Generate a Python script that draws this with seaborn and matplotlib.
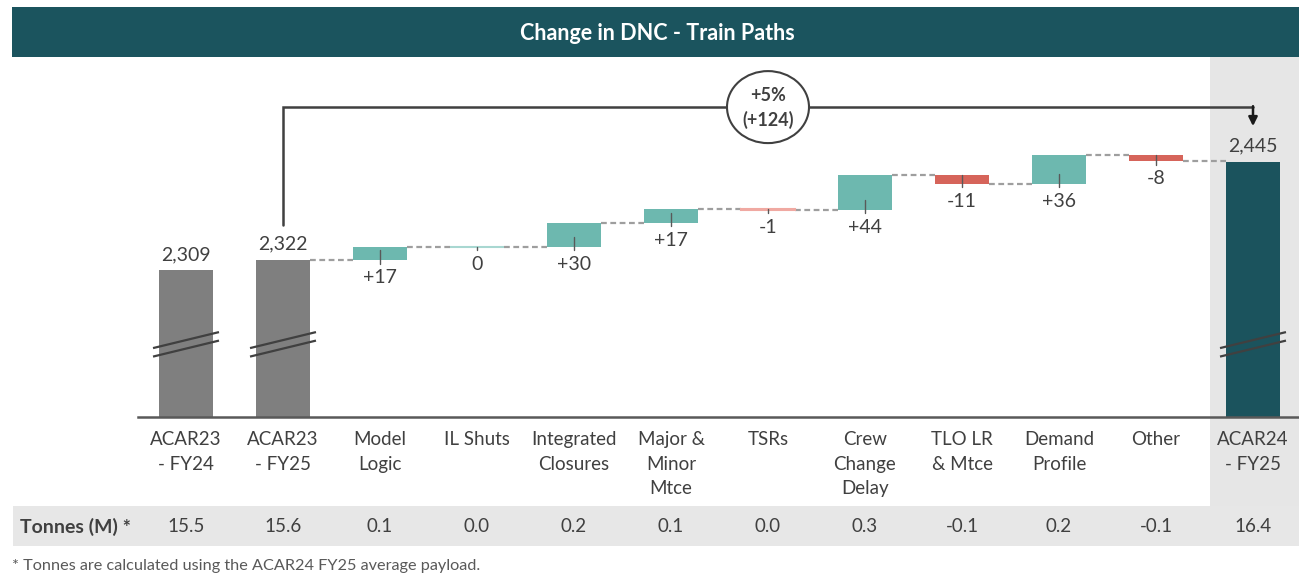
import matplotlib
matplotlib.use("Agg")
import matplotlib.pyplot as plt
from matplotlib.patches import Rectangle, Ellipse
from matplotlib.transforms import blended_transform_factory
import seaborn as sns
import numpy as np

# ---------------- data ----------------
categories = ["ACAR23\n- FY24", "ACAR23\n- FY25", "Model\nLogic", "IL Shuts",
              "Integrated\nClosures", "Major &\nMinor\nMtce", "TSRs",
              "Crew\nChange\nDelay", "TLO LR\n& Mtce", "Demand\nProfile",
              "Other", "ACAR24\n- FY25"]
start_totals = [2309, 2322]
deltas = [17, 0, 30, 17, -1, 44, -11, 36, -8]
end_total = 2445
tonnes = ["15.5", "15.6", "0.1", "0.0", "0.2", "0.1", "0.0", "0.3", "-0.1", "0.2", "-0.1", "16.4"]
change_pct = "+5%"
change_abs = "(+124)"
title = "Change in DNC - Train Paths"
row_label = "Tonnes (M) *"
footnote = "* Tonnes are calculated using the ACAR24 FY25 average payload."

# ---------------- colours ----------------
C_TOTAL = "#7F7F7F"
C_FINAL = "#1B535D"
C_POS = "#6DB8AF"
C_NEG = "#D6645A"
C_POS_LIGHT = "#A8D7D1"
C_NEG_LIGHT = "#F0A9A2"
C_TEXT = "#404040"
C_SHADE = "#E6E6E6"

sns.set_theme(style="white")
plt.rcParams["font.family"] = ["Lato", "DejaVu Sans"]

W, H = 1299, 575
fig = plt.figure(figsize=(W / 100, H / 100), dpi=100)

def fx(px):
    return px / W

def fy(py):
    return 1 - py / H

# layout (pixels)
ax_left, ax_right, ax_top, ax_bottom = 137.5, 1299, 57, 417
ax = fig.add_axes([fx(ax_left), fy(ax_bottom), fx(ax_right - ax_left), (ax_bottom - ax_top) / H])
ax.set_facecolor("none")

ymin, ymax = 2125, 2577
upp = (ymax - ymin) / (ax_bottom - ax_top)  # data units per pixel

# ---------------- waterfall geometry ----------------
running = [start_totals[-1]]
for d in deltas:
    running.append(running[-1] + d)

heights, bottoms, colors = [], [], []
for v in start_totals:
    heights.append(v); bottoms.append(0); colors.append(C_TOTAL)
for j, d in enumerate(deltas):
    lo = min(running[j], running[j + 1])
    heights.append(abs(d)); bottoms.append(lo)
    if abs(d) <= 1:
        colors.append(C_POS_LIGHT if d >= 0 else C_NEG_LIGHT)
    else:
        colors.append(C_POS if d > 0 else C_NEG)
heights.append(end_total); bottoms.append(0); colors.append(C_FINAL)

bw = 0.557
sns.barplot(x=categories, y=heights, order=categories, bottom=np.array(bottoms, dtype=float),
            width=bw, color=C_TOTAL, errorbar=None, ax=ax, zorder=3)
for p, c in zip(ax.patches, colors):
    p.set_facecolor(c)
    p.set_edgecolor(c)
    p.set_linewidth(1.5 if p.get_height() <= 1 else 0)

ax.set_xlim(-0.5, (ax_right - 186) / 97)
ax.set_ylim(ymin, ymax)
ax.set_xlabel("")
ax.set_ylabel("")
ax.set_yticks([])
sns.despine(ax=ax, left=True, top=True, right=True)
ax.spines["bottom"].set_color("#595959")
ax.spines["bottom"].set_linewidth(1.8)
ax.spines["bottom"].set_zorder(5)
ax.set_xticks(range(len(categories)))
ax.set_xticklabels(categories, fontsize=13.5, color=C_TEXT, linespacing=1.55)
ax.tick_params(axis="x", length=0, pad=10)

# connectors
for k in range(1, len(categories) - 1):
    lvl = running[k - 1]
    ax.plot([k + bw / 2, k + 1 - bw / 2], [lvl, lvl], color="#9E9E9E", lw=1.6,
            dashes=(2.6, 1.6), zorder=2)

# value labels
PT = 0.72  # points per pixel
totals_idx = [0, 1, len(categories) - 1]
for i, v in zip(totals_idx, start_totals + [end_total]):
    ax.annotate(f"{v:,}", xy=(i, v), xytext=(0, 16 * PT), textcoords="offset points",
                ha="center", va="center", fontsize=14, color=C_TEXT)
for j, d in enumerate(deltas):
    i = j + 2
    lo = min(running[j], running[j + 1])
    hi = max(running[j], running[j + 1])
    ax.plot([i, i], [min(hi, lo + 10 * upp), lo - 3.5 * upp], color="#595959", lw=1, zorder=4)
    lab = f"{d:+d}" if d != 0 else "0"
    ax.annotate(lab, xy=(i, lo), xytext=(0, -17.5 * PT), textcoords="offset points",
                ha="center", va="center", fontsize=14, color=C_TEXT)

# axis-break marks
for i in totals_idx:
    for off in (0, 8.5):
        yl = 2322 + (260 - (348 + off)) * upp
        yr = 2322 + (260 - (332 + off)) * upp
        ax.plot([i - 0.34, i + 0.34], [yl, yr], color="#404040", lw=1.6, zorder=6,
                solid_capstyle="butt")

# bracket with change bubble
y_br = start_totals[-1] + 153 * upp
ax.plot([1, 1, 11], [start_totals[-1] + 35 * upp, y_br, y_br], color=C_TEXT, lw=1.8, zorder=4,
        solid_joinstyle="miter")
ax.annotate("", xy=(11, end_total + 36 * upp), xytext=(11, y_br + 0.9 * upp),
            arrowprops=dict(arrowstyle="-|>", color="#1a1a1a", lw=1.8, mutation_scale=13,
                            shrinkA=0, shrinkB=0), zorder=4)
ax.add_patch(Ellipse((6.0, y_br), width=82 / 97, height=72 * upp, facecolor="white",
                     edgecolor=C_TEXT, lw=1.5, zorder=5))
ax.text(6.0, y_br + 12 * upp, change_pct, ha="center", va="center", fontsize=13,
        fontweight="bold", color=C_TEXT, zorder=6)
ax.text(6.0, y_br - 13 * upp, change_abs, ha="center", va="center", fontsize=13,
        fontweight="bold", color=C_TEXT, zorder=6)

# ---------------- figure decorations ----------------
fig.patches.append(Rectangle((fx(12), fy(57)), fx(W - 12), (57 - 7) / H, transform=fig.transFigure,
                             facecolor="#1B545E", edgecolor="none", zorder=-1))
fig.text(fx(657), fy(33), title, ha="center", va="center", color="white", fontsize=15.5,
         fontweight="bold")
fig.patches.append(Rectangle((fx(1210), fy(546)), fx(W - 1210), (546 - 57) / H,
                             transform=fig.transFigure, facecolor=C_SHADE, edgecolor="none",
                             zorder=-2))
fig.patches.append(Rectangle((fx(13), fy(546)), fx(W - 13), (546 - 506) / H,
                             transform=fig.transFigure, facecolor="#E7E7E7", edgecolor="none",
                             zorder=-1))

trans = blended_transform_factory(ax.transData, fig.transFigure)
for i, t in enumerate(tonnes):
    ax.text(i, fy(527), t, transform=trans, ha="center", va="center", fontsize=13.5,
            color=C_TEXT, clip_on=False)
fig.text(fx(20), fy(527), row_label, ha="left", va="center", fontsize=14,
         fontweight="bold", color=C_TEXT)
fig.text(fx(12), fy(566), footnote, ha="left", va="center", fontsize=11.7, color="#595959")

fig.savefig("out.png", dpi=100)
